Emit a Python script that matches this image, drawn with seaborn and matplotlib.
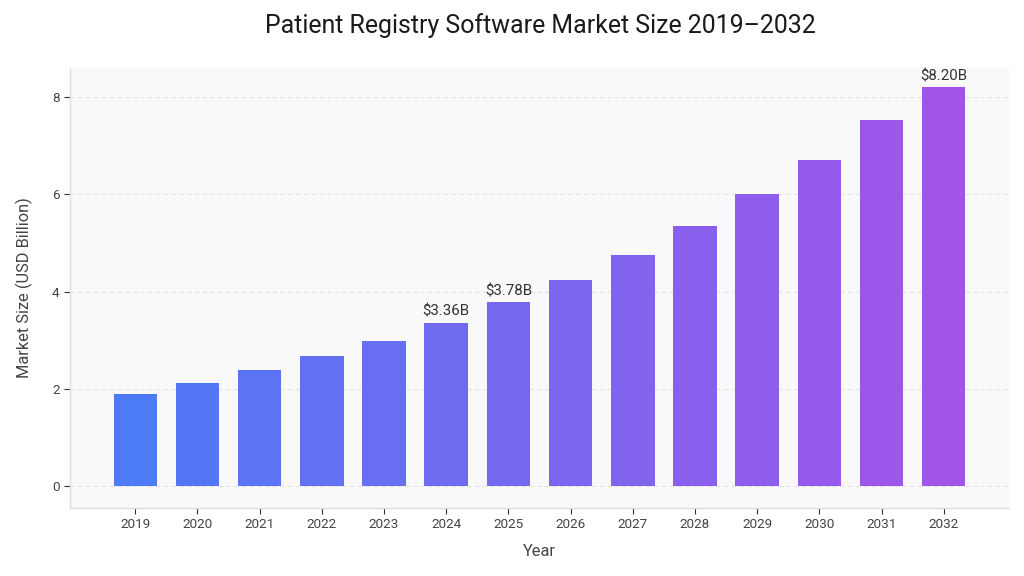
# plot.py
# Patient registry software market size, 2019-2032.

import matplotlib
matplotlib.use("Agg")
import matplotlib.pyplot as plt
import pandas as pd
import seaborn as sns

years = [2019, 2020, 2021, 2022, 2023, 2024, 2025, 2026, 2027, 2028, 2029, 2030, 2031, 2032]
market_size = [1.90, 2.12, 2.38, 2.67, 2.99, 3.36, 3.78, 4.24, 4.76, 5.34, 6.00, 6.71, 7.53, 8.20]
labelled_years = [2024, 2025, 2032]
y_ticks = [0, 2, 4, 6, 8]

sns.set_theme(style="white")
plt.rcParams["font.family"] = ["Roboto", "DejaVu Sans"]

df = pd.DataFrame({"year": years, "size": market_size})
palette = sns.blend_palette(["#4d7af5", "#a254e9"], len(years))

fig = plt.figure(figsize=(10.24, 5.76), dpi=100, facecolor="white")
ax = fig.add_axes([70 / 1024, 1 - 508 / 576, 939 / 1024, 440 / 576], facecolor="#f9f9f9")

sns.barplot(
    data=df, x="year", y="size", hue="year", palette=palette, legend=False,
    width=0.7, saturation=1, ax=ax, zorder=3,
)
# no outline, the reference bars are crisp
for bar in ax.patches:
    bar.set_linewidth(0)

for i, (year, value) in enumerate(zip(years, market_size)):
    if year in labelled_years:
        ax.annotate(
            f"${value:.2f}B", (i, value), xytext=(0, 3), textcoords="offset points",
            ha="center", va="bottom", fontsize=10.8, color="#333333", zorder=4,
        )

ax.set_xlim(-1.05, 14.05)
ax.set_ylim(-0.45, 8.6)
ax.set_yticks(y_ticks)
ax.yaxis.grid(True, color="#e4e4e4", linestyle=(0, (4, 3)), linewidth=0.8)
ax.set_axisbelow(True)

ax.tick_params(axis="both", length=4, width=0.8, color="#333333", labelcolor="#444444", labelsize=9.7,
               bottom=True, left=True)
ax.tick_params(axis="x", pad=3.5)
sns.despine(ax=ax)
for side in ("left", "bottom"):
    ax.spines[side].set_color("#dddddd")
    ax.spines[side].set_linewidth(1)

ax.set_xlabel("Year", fontsize=11.8, color="#444444", labelpad=9)
ax.set_ylabel("Market Size (USD Billion)", fontsize=11.8, color="#444444", labelpad=14)
fig.text(540 / 1024, 1 - 26 / 576, "Patient Registry Software Market Size 2019–2032",
         ha="center", va="center", fontsize=17.9, color="#1a1a1a")

fig.savefig("out.png", dpi=100)
